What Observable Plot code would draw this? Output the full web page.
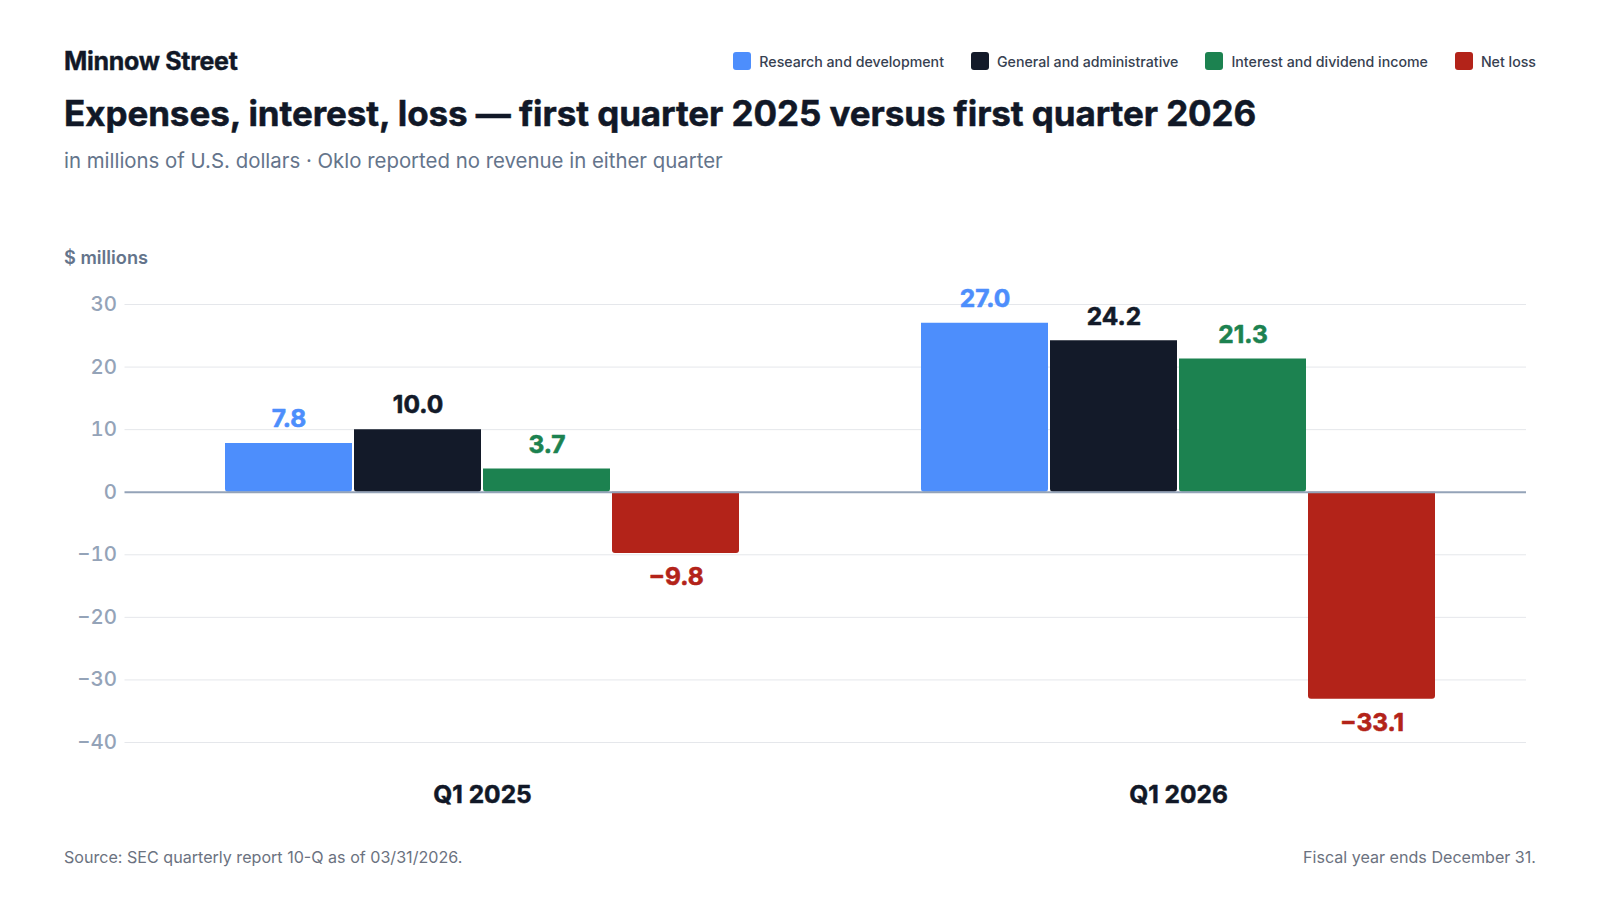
<!DOCTYPE html>
<html>
<head>
<meta charset="utf-8">
<script src="https://cdn.jsdelivr.net/npm/d3@7"></script>
<script src="https://cdn.jsdelivr.net/npm/@observablehq/plot@0.6"></script>
<style>
  html, body { margin: 0; padding: 0; background: #ffffff; }
  body { width: 1600px; height: 900px; position: relative; font-family: Inter, "Noto Sans", sans-serif; overflow: hidden; }
  .abs { position: absolute; white-space: nowrap; }
  #brand { left: 64px; top: 47px; font-size: 25px; line-height: 28px; font-weight: 700; color: #111827; letter-spacing: -0.3px; -webkit-text-stroke: 0.4px #111827; }
  #title { left: 64px; top: 92px; font-size: 35px; line-height: 42px; font-weight: 700; color: #111827; letter-spacing: -0.08px; -webkit-text-stroke: 0.5px #111827; }
  #subtitle { left: 64px; top: 148px; font-size: 20.4px; line-height: 26px; font-weight: 400; color: #64748b; }
  #legend { right: 64px; top: 52px; display: flex; align-items: center; gap: 27px; font-size: 14.2px; font-weight: 500; color: #374151; }
  #legend .item { display: flex; align-items: center; }
  #legend .sw { width: 18px; height: 18px; border-radius: 3px; margin-right: 8px; }
  #ylabel { left: 64px; top: 246px; font-size: 18.2px; line-height: 22px; font-weight: 600; color: #64748b; }
  #chart { left: 0; top: 200px; }
  #source { left: 64px; top: 846px; font-size: 16.1px; line-height: 22px; color: #6b7280; }
  #note { right: 64px; top: 846px; font-size: 16.1px; line-height: 22px; color: #6b7280; }
  #chart svg { overflow: visible; font-family: Inter, "Noto Sans", sans-serif; }
</style>
</head>
<body>
<div id="brand" class="abs">Minnow Street</div>
<div id="title" class="abs">Expenses, interest, loss — first quarter 2025 versus first quarter 2026</div>
<div id="subtitle" class="abs">in millions of U.S. dollars · Oklo reported no revenue in either quarter</div>
<div id="legend" class="abs"></div>
<div id="ylabel" class="abs">$ millions</div>
<div id="chart" class="abs"></div>
<div id="source" class="abs">Source: SEC quarterly report 10-Q as of 03/31/2026.</div>
<div id="note" class="abs">Fiscal year ends December 31.</div>
<script>
const quarters = ["Q1 2025", "Q1 2026"];
const categories = ["Research and development", "General and administrative", "Interest and dividend income", "Net loss"];
const colors = ["#4d8efc", "#131a29", "#1c8250", "#b32319"];
const q1_2025 = [7.8, 10.0, 3.7, -9.8];
const q1_2026 = [27.0, 24.2, 21.3, -33.1];
const yTicks = [-40, -30, -20, -10, 0, 10, 20, 30];

const seriesByQuarter = [q1_2025, q1_2026];
const rows = [];
quarters.forEach((q, qi) => categories.forEach((c, ci) => rows.push({quarter: q, category: c, value: seriesByQuarter[qi][ci]})));
// per-facet grid rows (tick values repeated for each quarter)
const gridRows = quarters.flatMap(q => yTicks.map(t => ({quarter: q, value: t})));

// legend
const legend = document.getElementById("legend");
categories.forEach((c, i) => {
  const item = document.createElement("div");
  item.className = "item";
  item.innerHTML = `<span class="sw" style="background:${colors[i]}"></span><span>${c}</span>`;
  legend.appendChild(item);
});

const fmt = d3.format(".1f");
const labelFont = {fontSize: 24.5, fontWeight: 700, stroke: "category", strokeWidth: 0.6};
const isFirst = d => d.quarter === quarters[0];

const chart = Plot.plot({
  width: 1600,
  height: 640,
  marginLeft: 124,
  marginRight: 74,
  marginTop: 104,
  marginBottom: 98,
  fx: {domain: quarters, padding: 0, insetLeft: 9.5, axis: null},
  x: {domain: categories, paddingInner: 0.0155, paddingOuter: 0.703, axis: null},
  y: {domain: [-40, 30], axis: null},
  color: {domain: categories, range: colors},
  marks: [
    Plot.ruleY(gridRows.filter(d => d.value !== 0 && isFirst(d)), {fx: "quarter", y: "value", stroke: "#e5e7eb", strokeWidth: 1, insetLeft: -9.5}),
    Plot.ruleY(gridRows.filter(d => d.value !== 0 && !isFirst(d)), {fx: "quarter", y: "value", stroke: "#e5e7eb", strokeWidth: 1}),
    Plot.axisY(yTicks, {tickSize: 0, tickPadding: 17.5, fontSize: 20.4, fontWeight: 500, color: "#94a3b8", label: null, tickFormat: d3.format("d")}),
    Plot.barY(rows, {fx: "quarter", x: "category", y: "value", fill: "category", rx1y2: 3, rx2y2: 3}),
    Plot.ruleY(gridRows.filter(d => d.value === 0 && isFirst(d)), {fx: "quarter", y: "value", stroke: "#94a3b8", strokeWidth: 2, insetLeft: -9.5}),
    Plot.ruleY(gridRows.filter(d => d.value === 0 && !isFirst(d)), {fx: "quarter", y: "value", stroke: "#94a3b8", strokeWidth: 2}),
    Plot.text(rows.filter(d => d.value >= 0), {fx: "quarter", x: "category", y: "value", text: d => fmt(d.value), fill: "category", dy: -24, ...labelFont}),
    Plot.text(rows.filter(d => d.value < 0), {fx: "quarter", x: "category", y: "value", text: d => fmt(d.value), fill: "category", dy: 24, ...labelFont}),
    Plot.text(quarters, {fx: d => d, text: d => d, frameAnchor: "bottom", lineAnchor: "middle", dy: 53, fontSize: 24.5, fontWeight: 700, fill: "#111827", stroke: "#111827", strokeWidth: 0.5})
  ]
});
document.getElementById("chart").appendChild(chart);
</script>
</body>
</html>
